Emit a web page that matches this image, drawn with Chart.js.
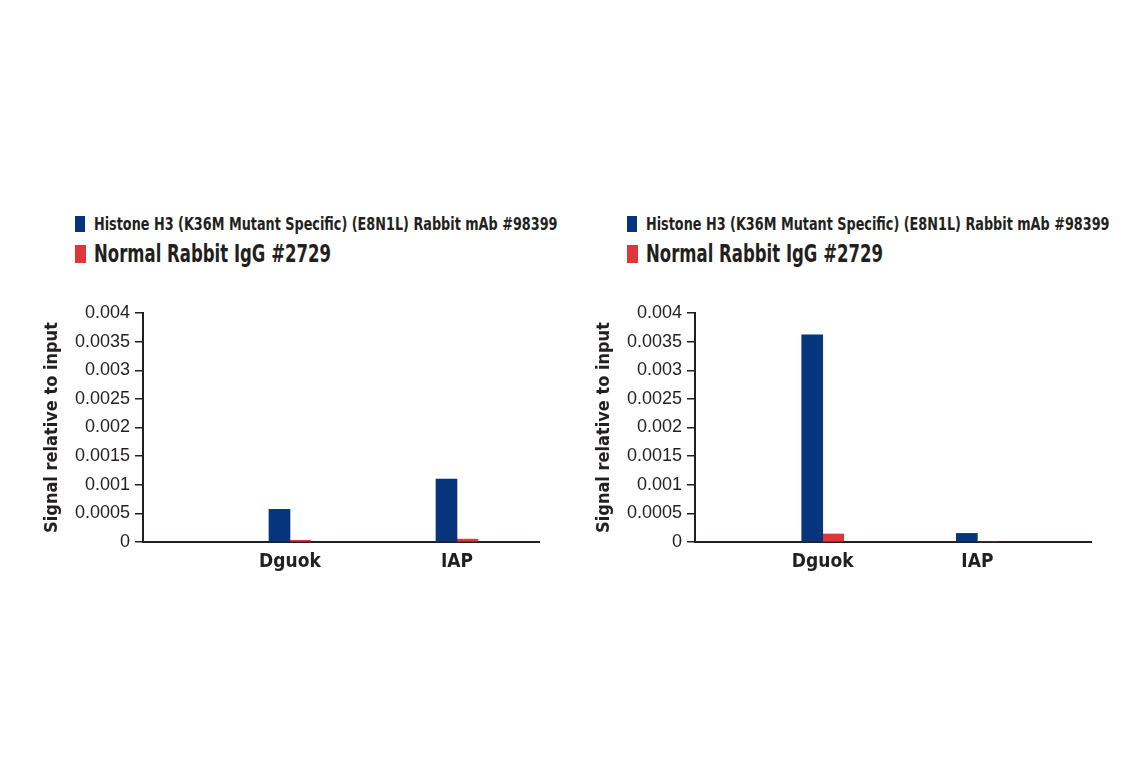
<!DOCTYPE html>
<html>
<head>
<meta charset="utf-8">
<script src="https://cdn.jsdelivr.net/npm/chart.js@4.4.1/dist/chart.umd.min.js"></script>
<style>
  html, body { margin: 0; padding: 0; background: #fff; }
  body { width: 1141px; height: 768px; position: relative; overflow: hidden;
         font-family: "DejaVu Sans Condensed", "Liberation Sans", sans-serif;
         color: #231f20; }
  .panel { position: absolute; top: 0; width: 552px; height: 768px; }
  .legend-row { position: absolute; left: 75px; white-space: nowrap; font-weight: bold; display: flex; align-items: center; }
  .legend-row .box { display: inline-block; width: 10px; margin-right: 9px; flex: none; }
  .legend-row .txt { display: inline-block; transform-origin: 0 50%; }
  .row1 { top: 213px; font-size: 18.5px; }
  .row1 .box { height: 16px; }
  .row1 .txt { transform: scaleX(0.77); }
  .row2 { top: 240px; font-size: 24px; }
  .row2 .box { height: 18px; width: 11px; margin-right: 8px; }
  .row2 .txt { transform: scaleX(0.765); }
  .plot { position: absolute; left: 0; top: 290px; width: 552px; height: 292px; }
</style>
</head>
<body>
<div class="panel" id="panel-left" style="left:0"></div>
<div class="panel" id="panel-right" style="left:552px"></div>

<script>
// ── Data ────────────────────────────────────────────────────
const categories = ['Dguok', 'IAP'];
const seriesNames = [
  'Histone H3 (K36M Mutant Specific) (E8N1L) Rabbit mAb #98399',
  'Normal Rabbit IgG #2729'
];
const seriesColors = ['#06357d', '#e0363b'];

const leftK36M  = [0.00057, 0.0011];
const leftIgG   = [0.00003, 0.00005];
const rightK36M = [0.00362, 0.00015];
const rightIgG  = [0.00014, 0.0];

const yTicks = [0, 0.0005, 0.001, 0.0015, 0.002, 0.0025, 0.003, 0.0035, 0.004];
const yTitle = 'Signal relative to input';

// ── Helpers ─────────────────────────────────────────────────
const NARROW = '"DejaVu Sans Condensed", "Liberation Sans", sans-serif';
const INK = '#231f20';

function buildLegend(panel) {
  seriesNames.forEach(function (name, i) {
    const row = document.createElement('div');
    row.className = 'legend-row row' + (i + 1);
    const box = document.createElement('span');
    box.className = 'box';
    box.style.background = seriesColors[i];
    const txt = document.createElement('span');
    txt.className = 'txt';
    txt.textContent = name;
    row.appendChild(box);
    row.appendChild(txt);
    panel.appendChild(row);
  });
}

function toPoints(values) {
  return values.map(function (v, i) { return { x: i + 1, y: v }; });
}

function makeChart(panelId, k36m, igg, xMin, xMax) {
  const panel = document.getElementById(panelId);
  buildLegend(panel);

  const wrap = document.createElement('div');
  wrap.className = 'plot';
  const canvas = document.createElement('canvas');
  wrap.appendChild(canvas);
  panel.appendChild(wrap);

  return new Chart(canvas, {
    type: 'bar',
    data: {
      datasets: [
        { label: seriesNames[0], data: toPoints(k36m), backgroundColor: seriesColors[0], barThickness: 21 },
        { label: seriesNames[1], data: toPoints(igg), backgroundColor: seriesColors[1], barThickness: 21 },
      ],
    },
    options: {
      responsive: true,
      maintainAspectRatio: false,
      animation: false,
      layout: { padding: { top: 23, right: 13, bottom: 0, left: 0 } },
      plugins: {
        legend: { display: false },
        tooltip: { enabled: false },
      },
      scales: {
        x: {
          type: 'linear',
          offset: false,
          min: xMin,
          max: xMax,
          grid: { display: false, drawTicks: false },
          border: { display: true, color: INK, width: 2 },
          afterBuildTicks: function (scale) {
            scale.ticks = categories.map(function (c, i) { return { value: i + 1 }; });
          },
          afterFit: function (scale) { scale.height = 40; },
          ticks: {
            autoSkip: false,
            maxRotation: 0,
            padding: 9,
            color: INK,
            font: { family: NARROW, size: 19, weight: 'bold' },
            callback: function (v) { return categories[v - 1]; },
          },
        },
        y: {
          min: 0,
          max: 0.004,
          afterBuildTicks: function (scale) {
            scale.ticks = yTicks.map(function (v) { return { value: v }; });
          },
          afterFit: function (scale) { scale.width = 143; },
          grid: { drawOnChartArea: false, drawTicks: true, tickLength: 8, color: INK, lineWidth: 1.5 },
          border: { display: true, color: INK, width: 2 },
          ticks: {
            padding: 5,
            color: INK,
            font: { family: '"Liberation Sans", Arial, sans-serif', size: 18 },
            callback: function (v) { return String(+Number(v).toFixed(4)); },
          },
          title: {
            display: true,
            text: yTitle,
            color: INK,
            padding: { top: 43, bottom: 0 },
            font: { family: NARROW, size: 18, weight: 'bold', lineHeight: 1 },
          },
        },
      },
    },
  });
}

makeChart('panel-left', leftK36M, leftIgG, 0.12, 2.491);
makeChart('panel-right', rightK36M, rightIgG, 0.174, 2.735);
</script>
</body>
</html>
